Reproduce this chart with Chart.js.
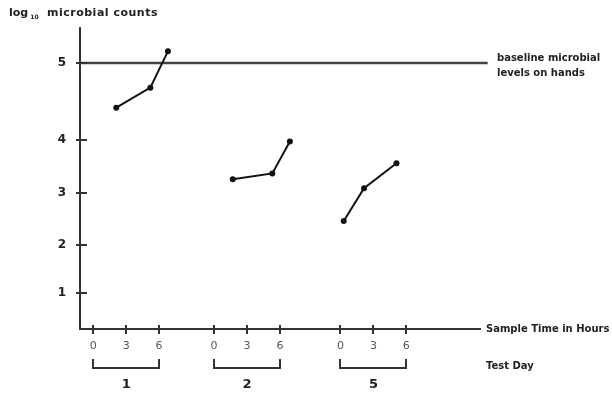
<!DOCTYPE html>
<html>
<head>
<meta charset="utf-8">
<script src="https://cdn.jsdelivr.net/npm/chart.js@4/dist/chart.umd.min.js"></script>
<style>
html,body{margin:0;padding:0;background:#fff;}
#c{display:block;}
</style>
</head>
<body>
<canvas id="c" width="612" height="398"></canvas>
<script>
// ---------- data ----------
const TEST_DAYS = ['1', '2', '5'];
const SAMPLE_HOUR_TICKS = [0, 3, 6];
const Y_TICKS = [1, 2, 3, 4, 5];
const BASELINE_LOG = 5;

const DAY1_HOURS = [2.1, 5.2, 6.8];
const DAY1_LOG   = [4.42, 4.68, 5.15];
const DAY2_HOURS = [1.7, 5.3, 6.9];
const DAY2_LOG   = [3.26, 3.37, 3.97];
const DAY5_HOURS = [0.3, 2.15, 5.1];
const DAY5_LOG   = [2.46, 3.09, 3.56];

// ---------- layout (axis geometry, not data) ----------
const DAY_OFFSET = [0, 11, 22.5];      // where each test day's 0 h sits on the time axis
const X_MIN = -1.2, X_MAX = 35.2, BASELINE_END = 35.9;
const Y_STOPS = [0, 1, 2, 3, 4, 5, 5.45];   // the drawn y axis is not uniformly spaced
const Y_GAPS  = [36, 48, 52, 53, 77, 35];   // relative drawn spacing between the stops
const Y_FRACS = (() => { const t = Y_GAPS.reduce((a, b) => a + b, 0); let c = 0; return [0, ...Y_GAPS.map(g => (c += g) / t)]; })();

class PiecewiseScale extends Chart.LinearScale {
  static id = 'piecewise';
  static defaults = {};
  _toDecimal(v) {
    const s = Y_STOPS, f = Y_FRACS; let i = 1;
    while (i < s.length - 1 && v > s[i]) i++;
    return f[i - 1] + (v - s[i - 1]) * (f[i] - f[i - 1]) / (s[i] - s[i - 1]);
  }
  getPixelForValue(v) {
    if (v === null || v === undefined || isNaN(v)) return NaN;
    return this.getPixelForDecimal(this._toDecimal(v));
  }
  getValueForPixel(p) {
    const d = this.getDecimalForPixel(p), s = Y_STOPS, f = Y_FRACS; let i = 1;
    while (i < f.length - 1 && d > f[i]) i++;
    return s[i - 1] + (d - f[i - 1]) * (s[i] - s[i - 1]) / (f[i] - f[i - 1]);
  }
}
Chart.register(PiecewiseScale);

const pts = (day, hours, vals) => hours.map((h, i) => ({ x: DAY_OFFSET[day] + h, y: vals[i] }));

const seriesStyle = {
  borderColor: '#111', backgroundColor: '#111', borderWidth: 2,
  pointRadius: 3, pointBackgroundColor: '#111', pointBorderWidth: 0,
  tension: 0, fill: false
};

const TXT = '#222';
const annot = {
  id: 'annot',
  afterDraw(chart) {
    const { ctx, chartArea: ca, scales: { x, y } } = chart;
    ctx.save();
    ctx.strokeStyle = '#333';
    ctx.lineWidth = 2;
    // tick marks crossing the axes
    Y_TICKS.forEach(v => {
      const py = Math.round(y.getPixelForValue(v));
      ctx.beginPath(); ctx.moveTo(ca.left - 4, py); ctx.lineTo(ca.left + 7, py); ctx.stroke();
    });
    x.ticks.forEach(t => {
      const px = Math.round(x.getPixelForValue(t.value));
      ctx.beginPath(); ctx.moveTo(px, ca.bottom - 4); ctx.lineTo(px, ca.bottom + 5); ctx.stroke();
    });
    // test day brackets
    ctx.fillStyle = TXT;
    TEST_DAYS.forEach((d, i) => {
      const x0 = Math.round(x.getPixelForValue(DAY_OFFSET[i] + SAMPLE_HOUR_TICKS[0]));
      const x1 = Math.round(x.getPixelForValue(DAY_OFFSET[i] + SAMPLE_HOUR_TICKS[SAMPLE_HOUR_TICKS.length - 1]));
      const yb = ca.bottom + 39;
      ctx.beginPath();
      ctx.moveTo(x0, ca.bottom + 30); ctx.lineTo(x0, yb); ctx.lineTo(x1, yb); ctx.lineTo(x1, ca.bottom + 30);
      ctx.stroke();
      ctx.font = 'bold 13px "DejaVu Sans"';
      ctx.textAlign = 'center'; ctx.textBaseline = 'middle';
      ctx.fillText(d, x.getPixelForValue(DAY_OFFSET[i] + 3), ca.bottom + 56);
    });
    // annotation texts
    ctx.font = 'bold 10px "DejaVu Sans"';
    ctx.textAlign = 'left'; ctx.textBaseline = 'middle';
    ctx.fillText('Sample Time in Hours', ca.right + 6, ca.bottom);
    ctx.fillText('Test Day', ca.right + 6, ca.bottom + 37);
    const by = y.getPixelForValue(BASELINE_LOG);
    ctx.fillText('baseline microbial', ca.right + 17, by - 5);
    ctx.fillText('levels on hands', ca.right + 17, by + 10);
    // y title: log10 microbial counts
    ctx.font = 'bold 11px "DejaVu Sans"';
    ctx.fillText('log', 9, 13);
    const w = ctx.measureText('log').width;
    ctx.font = 'bold 6px "DejaVu Sans"';
    ctx.fillText('10', 9 + w + 2, 17);
    ctx.font = 'bold 11px "DejaVu Sans"';
    ctx.letterSpacing = '0.5px';
    ctx.fillText('microbial counts', 47, 13);
    ctx.restore();
  }
};

new Chart(document.getElementById('c'), {
  type: 'line',
  data: {
    datasets: [
      { label: 'Test day 1', data: pts(0, DAY1_HOURS, DAY1_LOG), ...seriesStyle },
      { label: 'Test day 2', data: pts(1, DAY2_HOURS, DAY2_LOG), ...seriesStyle },
      { label: 'Test day 5', data: pts(2, DAY5_HOURS, DAY5_LOG), ...seriesStyle },
      { label: 'baseline microbial levels on hands',
        data: [{ x: X_MIN, y: BASELINE_LOG }, { x: BASELINE_END, y: BASELINE_LOG }],
        borderColor: '#444', borderWidth: 2.5, pointRadius: 0, clip: false, fill: false }
    ]
  },
  options: {
    responsive: false,
    animation: false,
    events: [],
    layout: { padding: { left: 0, top: 28, right: 132, bottom: 0 } },
    plugins: { legend: { display: false }, tooltip: { enabled: false } },
    scales: {
      x: {
        type: 'linear', min: X_MIN, max: X_MAX,
        afterBuildTicks: s => {
          s.ticks = DAY_OFFSET.flatMap(o => SAMPLE_HOUR_TICKS.map(h => ({ value: o + h })));
        },
        afterFit: s => { s.height = 69; },
        grid: { display: false, drawTicks: false },
        border: { display: true, color: '#333', width: 2 },
        ticks: {
          autoSkip: false, maxRotation: 0, padding: 11,
          color: '#555', font: { family: 'DejaVu Sans', size: 11 },
          callback: (v, i) => String(SAMPLE_HOUR_TICKS[i % SAMPLE_HOUR_TICKS.length])
        }
      },
      y: {
        type: 'piecewise', min: Y_STOPS[0], max: Y_STOPS[Y_STOPS.length - 1],
        afterBuildTicks: s => { s.ticks = Y_TICKS.map(v => ({ value: v })); },
        afterFit: s => { s.width = 80; },
        grid: { display: false, drawTicks: false },
        border: { display: true, color: '#333', width: 2 },
        ticks: {
          padding: 14, color: TXT,
          font: { family: 'DejaVu Sans', size: 12, weight: 'bold' },
          callback: v => String(v)
        }
      }
    }
  },
  plugins: [annot]
});
</script>
</body>
</html>
